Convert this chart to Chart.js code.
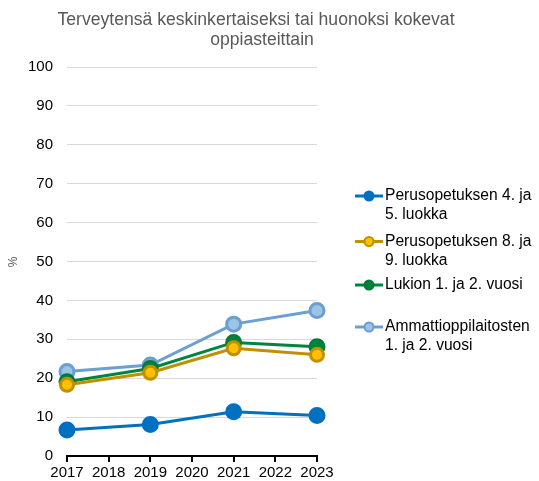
<!DOCTYPE html>
<html>
<head>
<meta charset="utf-8">
<script src="https://cdn.jsdelivr.net/npm/chart.js@4.4.1/dist/chart.umd.min.js"></script>
<style>
  html, body { margin: 0; padding: 0; background: #fff; }
  #wrap { width: 539px; height: 481px; }
</style>
</head>
<body>
<div id="wrap"><canvas id="chart" width="539" height="481"></canvas></div>
<script>
// data
const years = [2017, 2019, 2021, 2023];
const perus45 = [6.7, 8.1, 11.4, 10.4];
const perus89 = [18.3, 21.4, 27.7, 26.0];
const lukio = [19.1, 22.5, 29.2, 28.1];
const ammatti = [21.7, 23.4, 33.9, 37.4];

const seriesNames = [
  ['Perusopetuksen 4. ja', '5. luokka'],
  ['Perusopetuksen 8. ja', '9. luokka'],
  ['Lukion 1. ja 2. vuosi'],
  ['Ammattioppilaitosten', '1. ja 2. vuosi']
];
const titleLines = ['Terveytensä keskinkertaiseksi tai huonoksi kokevat', 'oppiasteittain'];
const yLabel = '%';

const FONT = 'Liberation Sans, Arial, sans-serif';

function pts(vals) {
  return vals.map((v, i) => ({ x: years[i], y: v }));
}

function ds(name, vals, line, fill, border, r, bw) {
  return {
    label: name.join(' '),
    lines: name,
    data: pts(vals),
    borderColor: line,
    backgroundColor: fill,
    pointBackgroundColor: fill,
    pointBorderColor: border,
    pointBorderWidth: bw,
    pointRadius: r,
    borderWidth: 3,
    tension: 0,
    clip: false
  };
}

// title, y label and legend drawn by hand so they sit where the original has them
const extras = {
  id: 'extras',
  afterDraw(chart) {
    const c = chart.ctx;
    c.save();
    c.fillStyle = '#595959';
    c.font = '17.6px ' + FONT;
    c.textAlign = 'center';
    c.textBaseline = 'middle';
    c.fillText(titleLines[0], 256, 20);
    c.fillText(titleLines[1], 262, 40);

    c.translate(14, 262);
    c.rotate(-Math.PI / 2);
    c.font = '12px ' + FONT;
    c.fillStyle = '#595959';
    c.fillText(yLabel, 0, 0);
    c.restore();

    // legend
    const tops = [196, 241.5, 285, 327];
    c.save();
    c.font = '15.6px ' + FONT;
    c.textAlign = 'left';
    c.textBaseline = 'middle';
    chart.data.datasets.forEach((d, i) => {
      const y = tops[i];
      c.strokeStyle = d.borderColor;
      c.lineWidth = 3;
      c.beginPath();
      c.moveTo(355, y);
      c.lineTo(383, y);
      c.stroke();
      c.beginPath();
      c.arc(369, y, 4.5, 0, Math.PI * 2);
      c.fillStyle = d.pointBackgroundColor;
      c.fill();
      c.lineWidth = 2;
      c.strokeStyle = d.pointBorderColor;
      c.stroke();
      c.fillStyle = '#000';
      d.lines.forEach((t, k) => c.fillText(t, 385, y + k * 19));
    });
    c.restore();
  }
};

new Chart(document.getElementById('chart'), {
  type: 'line',
  data: {
    datasets: [
      ds(seriesNames[0], perus45, '#0070C0', '#0070C0', '#0070C0', 7.5, 2),
      ds(seriesNames[1], perus89, '#BF9000', '#FFC000', '#BF9000', 6.5, 3),
      ds(seriesNames[2], lukio, '#00843D', '#00843D', '#007A38', 7.5, 2),
      ds(seriesNames[3], ammatti, '#6A9FD0', '#9DC3E6', '#6A9FD0', 7, 3)
    ]
  },
  options: {
    responsive: false,
    animation: false,
    layout: { padding: { top: 67, right: 222, left: 0, bottom: 0 } },
    plugins: {
      legend: { display: false },
      title: { display: false },
      tooltip: { enabled: false }
    },
    scales: {
      x: {
        type: 'linear',
        min: 2017,
        max: 2023,
        afterFit: s => { s.height = 25; },
        ticks: {
          stepSize: 1,
          color: '#000',
          font: { family: FONT, size: 15 },
          padding: 2,
          callback: v => String(v)
        },
        grid: {
          drawOnChartArea: false,
          drawTicks: true,
          tickLength: 6,
          color: '#000',
          lineWidth: 2
        },
        border: { color: '#000', width: 2 }
      },
      y: {
        min: 0,
        max: 100,
        afterFit: s => { s.width = 67; },
        ticks: {
          stepSize: 10,
          color: '#000',
          font: { family: FONT, size: 15 },
          padding: 14
        },
        grid: {
          color: '#D9D9D9',
          lineWidth: 1,
          drawTicks: false
        },
        border: { display: false }
      }
    }
  },
  plugins: [extras]
});
</script>
</body>
</html>
